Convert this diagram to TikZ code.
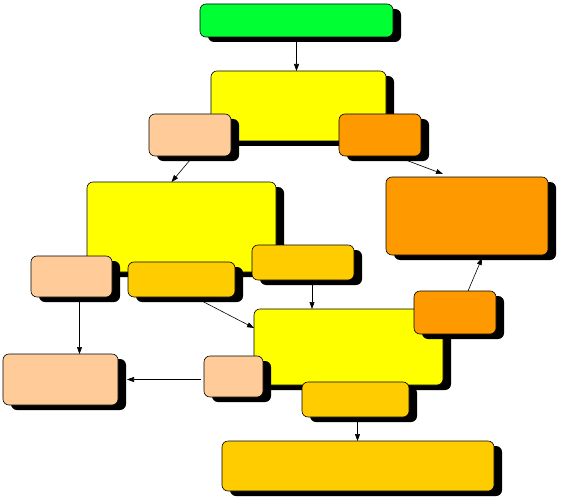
\documentclass[tikz,border=0pt]{standalone}
\usetikzlibrary{shadows,arrows.meta,calc}
\definecolor{cgreen}{HTML}{00FF33}
\definecolor{cyellow}{HTML}{FFFF00}
\definecolor{cpeach}{HTML}{FFCC99}
\definecolor{corange}{HTML}{FF9900}
\definecolor{cgold}{HTML}{FFCC00}
\begin{document}
\begin{tikzpicture}[x=1pt,y=-1pt,
  box/.style={draw=black, line width=0.6pt, rounded corners=6pt, inner sep=0pt, outer sep=0pt,
    drop shadow={shadow xshift=8pt, shadow yshift=-5pt, fill=black, opacity=1}},
  arr/.style={draw=black, line width=0.6pt, -{Triangle[length=7pt,width=5pt]}}]
\useasboundingbox (0,0) rectangle (561,497);
% helper: \bx{name}{color}{l}{t}{r}{b}
\newcommand{\bx}[6]{%
  \node[box, fill=#2, minimum width={#5-#3}, minimum height={#6-#4}] (#1) at ({(#3+#5)/2},{(#4+#6)/2}) {};}
\bx{green}{cgreen}{200}{4}{393}{37}
\bx{ya}{cyellow}{211}{71}{386}{141}
\bx{pa}{cpeach}{149}{114}{231}{156}
\bx{oa}{corange}{339}{114}{421}{156}
\bx{yb}{cyellow}{87}{182}{276}{272}
\bx{obig}{corange}{386}{177}{548}{255}
\bx{pb}{cpeach}{31}{256}{112}{297}
\bx{gb}{cgold}{128}{262}{235}{297}
\bx{gc}{cgold}{252}{245}{354}{280}
\bx{yc}{cyellow}{254}{309}{443}{385}
\bx{oc}{corange}{414}{291}{496}{334}
\bx{pc}{cpeach}{204}{356}{263}{397}
\bx{pbl}{cpeach}{3}{354}{118}{405}
\bx{gd}{cgold}{302}{382}{409}{417}
\bx{gbig}{cgold}{222}{441}{494}{491}
% connector anchors
\coordinate (s1) at ($(gc.south)+(9,0)$);
\coordinate (s2) at ($(gd.south)+(2,3)$);
\coordinate (s3) at ($(pb.south)+(8,3)$);
\coordinate (s4) at ($(pc.west)+(-3,3)$);
\coordinate (e4) at ($(pbl.east)+(9,0)$);
% connectors
\draw[arr] (green.south) -- (green.south |- ya.north);
\draw[arr] ($(pa.south)+(0,4)$) -- ($(yb.north)+(-10,0)$);
\draw[arr] ($(oa.south east)+(-18,3)$) -- ($(obig.north)+(-24,-3)$);
\draw[arr] ($(gb.south east)+(-37,2)$) -- ($(yc.north west)+(0,19)$);
\draw[arr] (s1) -- (s1 |- yc.north);
\draw[arr] ($(oc.north)+(13,0)$) -- ($(obig.south)+(15,3)$);
\draw[arr] (s3) -- (s3 |- pbl.north);
\draw[arr] (s4) -- (s4 -| e4);
\draw[arr] (s2) -- (s2 |- gbig.north);
\end{tikzpicture}
\end{document}
